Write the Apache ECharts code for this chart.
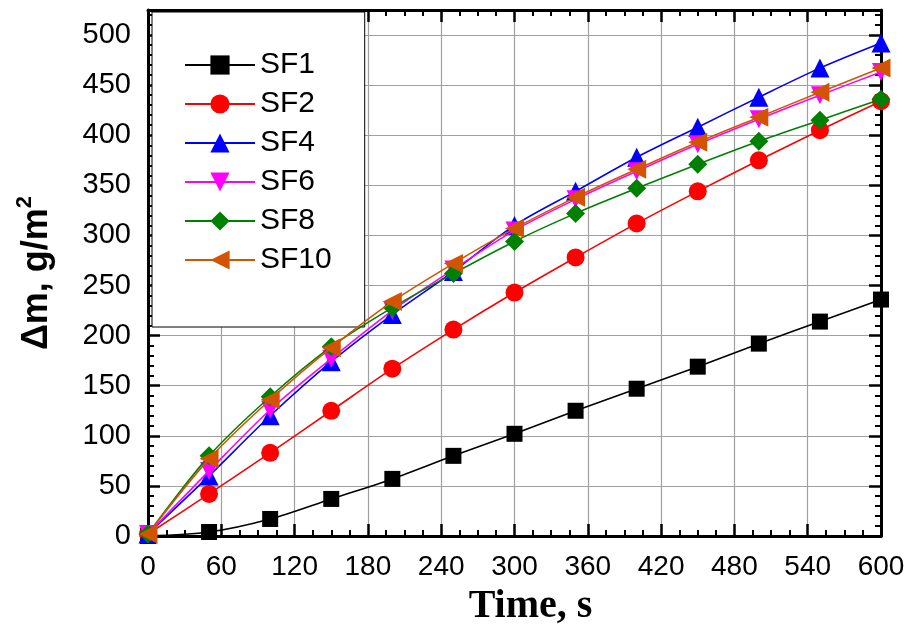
<!DOCTYPE html>
<html>
<head>
<meta charset="utf-8">
<script src="https://cdn.jsdelivr.net/npm/echarts@6/dist/echarts.min.js"></script>
<style>
html,body{margin:0;padding:0;background:#fff;}
#chart{width:912px;height:625px;}
</style>
</head>
<body>
<div id="chart"></div>
<script>
const times = [0, 50, 100, 150, 200, 250, 300, 350, 400, 450, 500, 550, 600];
const seriesNames = ['SF1', 'SF2', 'SF4', 'SF6', 'SF8', 'SF10'];
const SF1 = [0, 4, 17, 37, 57, 80, 102, 125, 147, 169, 192, 214, 236];
const SF2 = [2, 42, 83, 125, 167, 206, 243, 278, 312, 344, 375, 405, 434];
const SF4 = [2, 60, 120, 174, 221, 264, 310, 344, 378, 408, 438, 467, 492];
const SF6 = [2, 65, 126, 177, 225, 266, 305, 336, 364, 391, 416, 440, 463];
const SF8 = [2, 80, 139, 189, 228, 262, 294, 322, 347, 371, 394, 415, 436];
const SF10 = [2, 77, 136, 188, 234, 272, 307, 338, 366, 393, 418, 443, 467];
const xTicks = [0, 60, 120, 180, 240, 300, 360, 420, 480, 540, 600];
const yTicks = [0, 50, 100, 150, 200, 250, 300, 350, 400, 450, 500];

const allData = [SF1, SF2, SF4, SF6, SF8, SF10];
const colors = ['#000000', '#ff0000', '#0000ff', '#ff00ff', '#008000', '#d35400'];
const symbols = ['rect', 'circle', 'triangle', 'triangle', 'diamond', 'triangle'];
const rotates = [0, 0, 0, 180, 0, 90];
const sizes = [16, 18, 19, 18, 19, 19];

const SANS = '"Liberation Sans", Arial, sans-serif';
const SERIF = '"Liberation Serif", "Times New Roman", serif';

const series = seriesNames.map((name, i) => ({
  name: name,
  type: 'line',
  data: times.map((t, j) => [t, allData[i][j]]),
  smooth: 0.3,
  symbol: symbols[i],
  symbolRotate: rotates[i],
  symbolSize: sizes[i],
  showAllSymbol: true,
  lineStyle: { color: colors[i], width: 1.6 },
  itemStyle: { color: colors[i] },
  z: 3 + i
}));

const axisLineStyle = { show: true, onZero: false, lineStyle: { color: '#000', width: 3 } };
const xTickSet = new Set(xTicks);
const yTickSet = new Set(yTicks);

const chart = echarts.init(document.getElementById('chart'), null, { renderer: 'canvas' });
chart.setOption({
  animation: false,
  backgroundColor: '#fff',
  grid: { left: 148, right: 31, top: 10, bottom: 89, containLabel: false, outerBoundsMode: 'none' },
  legend: {
    data: seriesNames,
    orient: 'vertical',
    left: 152,
    top: 12,
    itemWidth: 70,
    itemHeight: 24,
    itemGap: 9,
    padding: [38, 33, 52, 32],
    backgroundColor: '#fff',
    borderColor: '#000',
    borderWidth: 1,
    textStyle: { fontSize: 30, fontFamily: SANS, color: '#000' }
  },
  xAxis: [{
    type: 'value',
    position: 'bottom',
    min: 0, max: 600, interval: 60,
    axisLine: axisLineStyle,
    axisTick: { show: true, inside: true, length: 12, lineStyle: { color: '#000', width: 2.5 } },
    minorTick: { show: true, splitNumber: 4, length: 6, lineStyle: { color: '#000', width: 2 } },
    splitLine: { show: true, lineStyle: { color: '#a0a0a0', width: 1.2 } },
    axisLabel: {
      fontSize: 28, fontFamily: SANS, color: '#000', margin: 17,
      formatter: v => xTickSet.has(v) ? String(v) : ''
    },
    name: 'Time, s',
    nameLocation: 'middle',
    nameGap: 51,
    nameTextStyle: { fontSize: 40, fontWeight: 'bold', fontFamily: SERIF, color: '#000', padding: [0, 0, 0, 32] }
  }, {
    type: 'value',
    position: 'top',
    min: 0, max: 600, interval: 60,
    axisLine: axisLineStyle,
    axisTick: { show: true, inside: true, length: 12, lineStyle: { color: '#000', width: 2.5 } },
    minorTick: { show: true, splitNumber: 4, length: 6, lineStyle: { color: '#000', width: 2 } },
    splitLine: { show: false },
    axisLabel: { show: false }
  }],
  yAxis: [{
    type: 'value',
    position: 'left',
    min: 0, max: 525, interval: 50,
    axisLine: axisLineStyle,
    axisTick: { show: true, inside: true, length: 12, lineStyle: { color: '#000', width: 2.5 } },
    minorTick: { show: true, splitNumber: 5, length: 6, lineStyle: { color: '#000', width: 2 } },
    splitLine: { show: true, lineStyle: { color: '#a0a0a0', width: 1.2 } },
    axisLabel: {
      fontSize: 29, fontFamily: SANS, color: '#000', margin: 17,
      showMaxLabel: false,
      formatter: v => yTickSet.has(v) ? String(v) : ''
    },
    name: '{a|Δm, g/m}{b|2}',
    nameLocation: 'middle',
    nameGap: 88,
    nameTextStyle: {
      color: '#000',
      rich: {
        a: { fontSize: 36, fontWeight: 'bold', fontFamily: SANS, color: '#000' },
        b: { fontSize: 22, fontWeight: 'bold', fontFamily: SANS, color: '#000', padding: [0, 0, 24, 0] }
      }
    }
  }, {
    type: 'value',
    position: 'right',
    min: 0, max: 525, interval: 50,
    axisLine: axisLineStyle,
    axisTick: { show: true, inside: true, length: 12, lineStyle: { color: '#000', width: 2.5 } },
    minorTick: { show: true, splitNumber: 5, length: 6, lineStyle: { color: '#000', width: 2 } },
    splitLine: { show: false },
    axisLabel: { show: false }
  }],
  series: series
});
</script>
</body>
</html>
